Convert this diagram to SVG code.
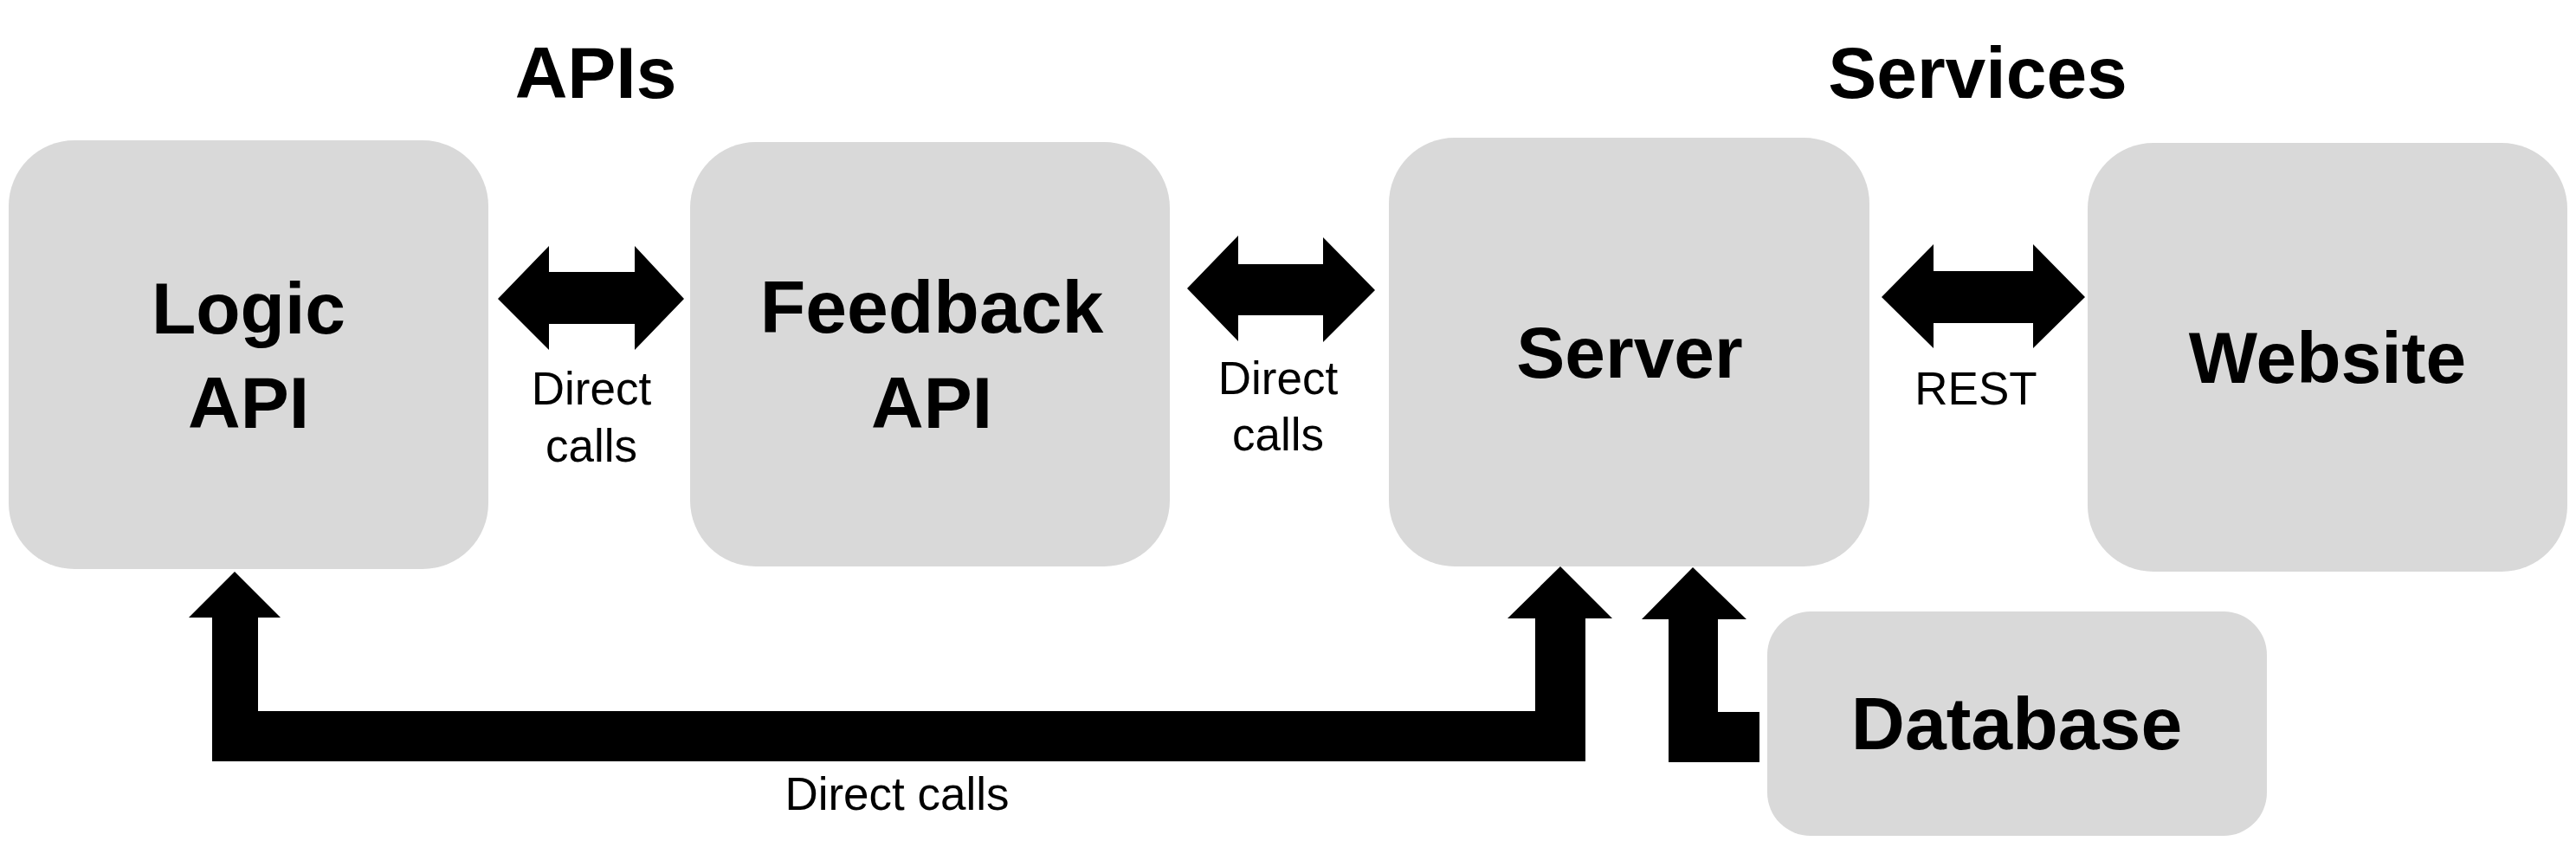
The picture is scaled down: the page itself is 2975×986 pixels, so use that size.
<svg xmlns="http://www.w3.org/2000/svg" width="2975" height="986" viewBox="0 0 2975 986">
<style>
.box{fill:#D9D9D9}
.t{font-family:"Liberation Sans",Arial,sans-serif;font-weight:bold;font-size:84px;fill:#000;text-anchor:middle}
.w{font-size:86px}
.s{font-family:"Liberation Sans",Arial,sans-serif;font-size:53px;fill:#000;text-anchor:middle}
.c{fill:#000}
</style>
<rect width="2975" height="986" fill="#fff"/>
<text class="t" x="688" y="113">APIs</text>
<text class="t" x="2284" y="113">Services</text>
<g id="logic-api">
<rect class="box" x="10" y="162" width="554" height="495" rx="76" ry="76"/>
<text class="t" x="287" y="385">Logic</text>
<text class="t" x="287" y="494">API</text>
</g>
<g id="feedback-api">
<rect class="box" x="797" y="164" width="554" height="490" rx="76" ry="76"/>
<text class="t w" x="1076" y="384">Feedback</text>
<text class="t" x="1076" y="494">API</text>
</g>
<g id="server">
<rect class="box" x="1604" y="159" width="555" height="495" rx="76" ry="76"/>
<text class="t" x="1882" y="436">Server</text>
</g>
<g id="website">
<rect class="box" x="2411" y="165" width="554" height="495" rx="76" ry="76"/>
<text class="t" x="2688" y="442">Website</text>
</g>
<g id="database">
<rect class="box" x="2041" y="706" width="577" height="259" rx="50" ry="50"/>
<text class="t w" x="2329" y="865">Database</text>
</g>
<g id="connectors">
<polygon class="c" points="575,345 634,284 634,314 733,314 733,284 790,345 733,404 733,374 634,374 634,404"/>
<text class="s" x="683" y="467">Direct</text>
<text class="s" x="683" y="533">calls</text>
<polygon class="c" points="1371,333 1430,272 1430,305 1528,305 1528,274 1588,335 1528,395 1528,364 1430,364 1430,394"/>
<text class="s" x="1476" y="455">Direct</text>
<text class="s" x="1476" y="520">calls</text>
<polygon class="c" points="2173,343 2233,282 2233,313 2348,313 2348,282 2408,343 2348,402 2348,373 2233,373 2233,402"/>
<text class="s" x="2282" y="467">REST</text>
<polygon class="c" points="271,660 324,713 298,713 298,821 1773,821 1773,714 1741,714 1802,654 1862,714 1831,714 1831,879 245,879 245,713 218,713"/>
<text class="s" x="1036" y="935">Direct calls</text>
<polygon class="c" points="1955,655 2017,715 1984,715 1984,822 2032,822 2032,880 1927,880 1927,715 1896,715"/>
</g>
</svg>
